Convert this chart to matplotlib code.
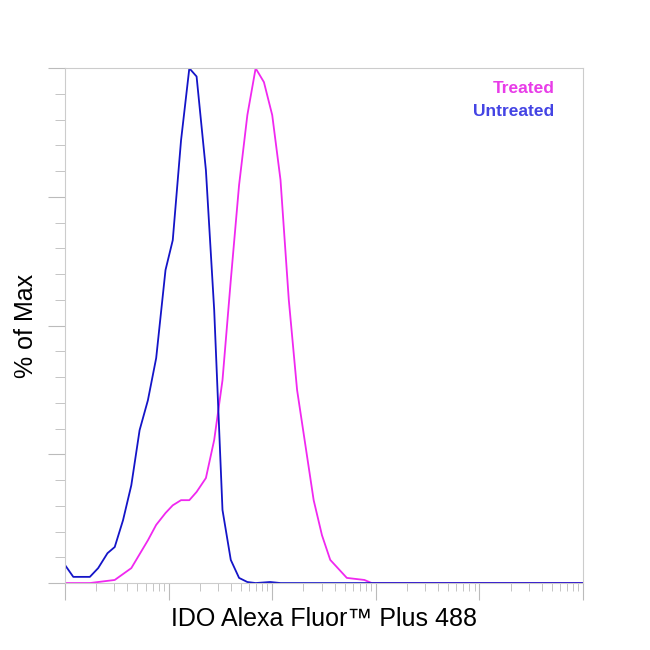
import numpy as np
import matplotlib.pyplot as plt
from matplotlib.ticker import MultipleLocator, LogLocator, NullFormatter

plt.rcParams['font.family'] = ['Liberation Sans', 'DejaVu Sans']

# log10 of fluorescence, % of max
untreated_log = [1.00, 1.08, 1.24, 1.32, 1.41, 1.48, 1.56, 1.64, 1.72, 1.80, 1.88, 1.97, 2.04,
                 2.12, 2.20, 2.27, 2.36, 2.44, 2.52, 2.60, 2.68, 2.76, 2.84, 2.98, 3.08, 6.0]
untreated_pct = [3.5, 1.2, 1.2, 2.9, 5.8, 7.0, 12.2, 19.0, 29.7, 35.5, 43.7, 60.8, 66.6,
                 86.0, 100, 98.4, 80.2, 53.0, 14.2, 4.5, 1.0, 0.2, 0, 0.2, 0, 0]
treated_log = [1.00, 1.24, 1.48, 1.64, 1.80, 1.88, 1.97, 2.04, 2.12, 2.20, 2.27, 2.36, 2.44,
               2.52, 2.60, 2.68, 2.76, 2.84, 2.92, 3.00, 3.08, 3.16, 3.24, 3.32, 3.40, 3.48,
               3.56, 3.72, 3.89, 3.96, 6.0]
treated_pct = [0, 0, 0.6, 2.9, 8.3, 11.3, 13.6, 15.1, 16.1, 16.1, 17.7, 20.4, 27.8,
               39.4, 58.8, 77.3, 90.9, 100, 97.3, 90.9, 78.3, 55.0, 37.5, 26.8, 16.1, 9.3,
               4.5, 1.0, 0.6, 0, 0]

blue = '#1414c8'
magenta = '#f028f0'

fig = plt.figure(figsize=(6.5, 6.5), dpi=100)
ax = fig.add_axes([0.1, 0.103, 0.797, 0.792])
ax.plot(10 ** np.array(treated_log), treated_pct, color=magenta, lw=1.3)
ax.plot(10 ** np.array(untreated_log), untreated_pct, color=blue, lw=1.3)

ax.set_xscale('log')
ax.set_xlim(10, 1e6)
ax.set_ylim(0, 100)
ax.xaxis.set_major_locator(LogLocator(base=10, numticks=10))
ax.xaxis.set_minor_locator(LogLocator(base=10, subs=np.arange(2, 10), numticks=100))
ax.xaxis.set_major_formatter(NullFormatter())
ax.xaxis.set_minor_formatter(NullFormatter())
ax.yaxis.set_major_locator(MultipleLocator(25))
ax.yaxis.set_minor_locator(MultipleLocator(5))
ax.yaxis.set_major_formatter(NullFormatter())
for s in ax.spines.values():
    s.set_color('#cccccc')
ax.tick_params(which='major', length=12, color='#bbbbbb')
ax.tick_params(which='minor', length=7, color='#bbbbbb')
ax.tick_params(axis='x', which='minor', length=6)

ax.set_xlabel('IDO Alexa Fluor™ Plus 488', fontsize=18, labelpad=2)
ax.set_ylabel('% of Max', fontsize=18, labelpad=4)

ax.text(0.945, 0.975, 'Treated', color='#e83ce8', fontsize=12.5, fontweight='bold',
        ha='right', va='top', transform=ax.transAxes)
ax.text(0.945, 0.93, 'Untreated', color='#4444e4', fontsize=12.5, fontweight='bold',
        ha='right', va='top', transform=ax.transAxes)

fig.savefig('out.png', dpi=100)
